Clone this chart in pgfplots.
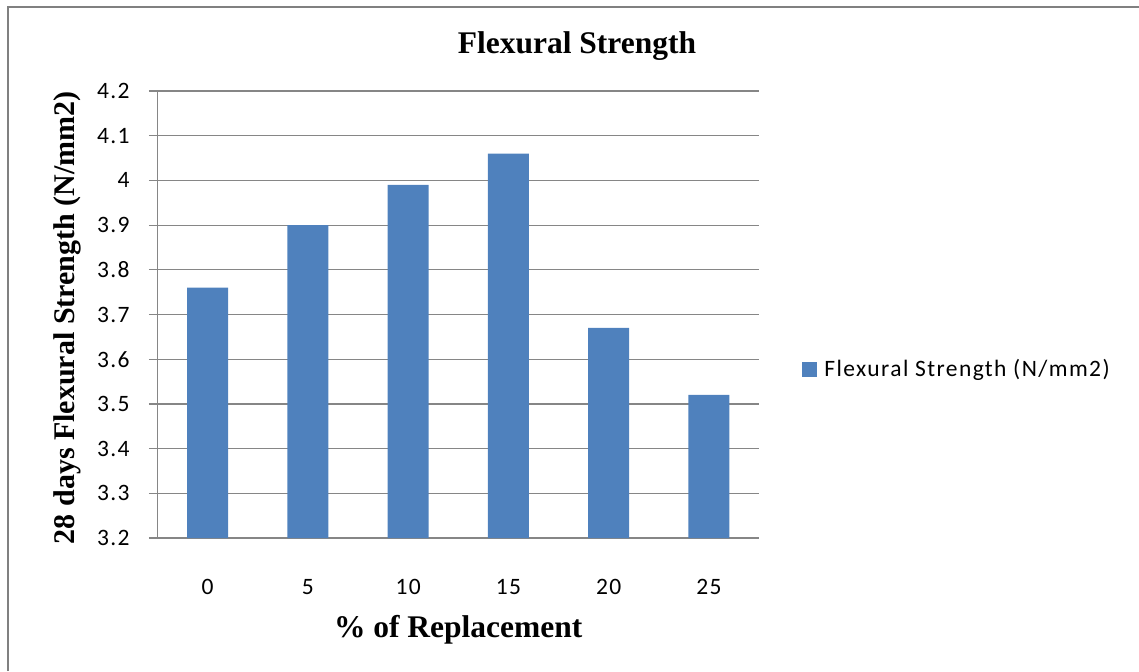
\documentclass[border=0pt]{standalone}
\usepackage{pgfplots}
\pgfplotsset{compat=1.18}
\usepackage{fontspec}
\setmainfont{Liberation Serif}
\newfontfamily\calibri[LetterSpace=6]{Carlito}
\definecolor{barblue}{RGB}{79,129,189}
\definecolor{gridgray}{RGB}{134,134,134}
\definecolor{framegray}{RGB}{128,128,128}

\begin{document}
\begin{tikzpicture}[x=1pt,y=1pt]
% page size and the chart frame (left and top edges only, as in the source)
\path[use as bounding box] (-78.75,-66.5) rectangle (490.75,269);
\draw[framegray, line width=1pt] (-74.75,-66.5) -- (-74.75,265.5) -- (490.75,265.5);
\begin{axis}[
	at={(0,0)}, anchor=south west,
	scale only axis,
	width=300.75pt, height=223.5pt,
	xmin=-0.5, xmax=5.5,
	ymin=3.2, ymax=4.2,
	xtick={0,1,2,3,4,5},
	xticklabels={0,5,10,15,20,25},
	ytick={3.2,3.3,3.4,3.5,3.6,3.7,3.8,3.9,4.0,4.1,4.2},
	axis lines=left,
	axis line style={-, draw=gridgray, line width=0.6pt},
	ymajorgrids,
	grid style={gridgray, line width=0.6pt},
	tick align=outside,
	major tick length=4.25pt,
	ytick style={gridgray, line width=0.6pt},
	xtick style={draw=none},
	/pgf/number format/assume math mode=true,
	ticklabel style={font=\calibri\fontsize{11.75}{14}\selectfont, text=black},
	xticklabel style={anchor=base, inner sep=0pt, yshift=-24pt},
	yticklabel style={anchor=east, inner sep=0pt, xshift=-9.5pt},
	title={Flexural Strength},
	title style={font=\bfseries\fontsize{15.75}{18}\selectfont,
		at={(axis description cs:0.6974,1.0828)}, anchor=base, yshift=-6pt},
	xlabel={\% of Replacement},
	xlabel style={font=\bfseries\fontsize{15.75}{18}\selectfont,
		at={(axis description cs:0.5,-0.2215)}, anchor=base},
	ylabel={28 days Flexural Strength (N/mm2)},
	ylabel style={font=\bfseries\fontsize{15}{18}\selectfont,
		at={(axis description cs:-0.1372,0.493)}, anchor=base, rotate=0},
	legend style={at={(axis description cs:1.0715,0.377)}, anchor=west,
		draw=none, fill=none, inner sep=0pt, column sep=3.5pt,
		nodes={inner sep=0pt, anchor=west},
		font=\calibri\fontsize{11.75}{14}\selectfont, text=black},
	legend cell align=left,
	legend image code/.code={\fill[barblue] (0pt,-3.75pt) rectangle (7.5pt,3.75pt);},
]
	\addplot[ybar, bar width=20.5pt, fill=barblue, draw=none] coordinates {
		(0,3.76) (1,3.90) (2,3.99) (3,4.06) (4,3.67) (5,3.52)
	};
	\addlegendentry{Flexural Strength (N/mm2)}
\end{axis}
\end{tikzpicture}
\end{document}
